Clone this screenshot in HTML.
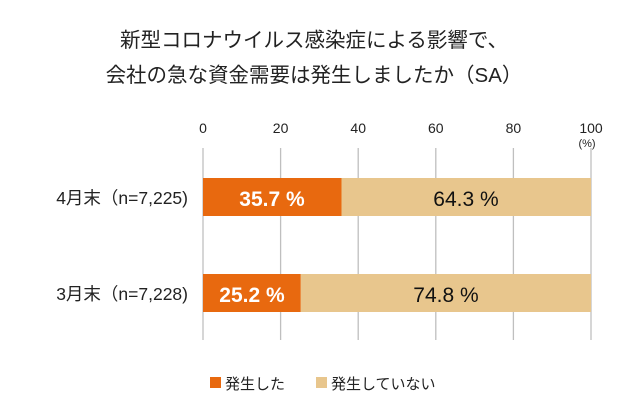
<!DOCTYPE html>
<html><head><meta charset="utf-8"><style>
body{margin:0;background:#fff;}
svg text{font-family:"Liberation Sans","Noto Sans CJK JP",sans-serif;}
</style></head><body>
<svg width="629" height="410" xmlns="http://www.w3.org/2000/svg">
<rect width="629" height="410" fill="#fff"/>
<text x="314" y="47" font-size="20.5" text-anchor="middle" fill="#222">新型コロナウイルス感染症による影響で、</text>
<text x="314" y="82" font-size="20.5" text-anchor="middle" fill="#222">会社の急な資金需要は発生しましたか（SA）</text>
<g font-size="14" fill="#222" text-anchor="middle">
<text x="203" y="133">0</text><text x="280.6" y="133">20</text><text x="358.2" y="133">40</text>
<text x="435.8" y="133">60</text><text x="513.4" y="133">80</text><text x="591" y="133">100</text>
<text x="587" y="147" font-size="11">(%)</text>
</g>
<g stroke="#bfbfbf" stroke-width="1.3">
<line x1="203" y1="148" x2="203" y2="340"/><line x1="280.6" y1="148" x2="280.6" y2="340"/>
<line x1="358.2" y1="148" x2="358.2" y2="340"/><line x1="435.8" y1="148" x2="435.8" y2="340"/>
<line x1="513.4" y1="148" x2="513.4" y2="340"/><line x1="591" y1="148" x2="591" y2="340"/>
</g>
<rect x="203" y="178" width="138.5" height="38" fill="#e8690f"/>
<rect x="341.5" y="178" width="249.5" height="38" fill="#e8c68d"/>
<rect x="203" y="274" width="97.8" height="38" fill="#e8690f"/>
<rect x="300.8" y="274" width="290.2" height="38" fill="#e8c68d"/>
<text x="272" y="206" font-size="21" font-weight="bold" fill="#fff" text-anchor="middle">35.7 %</text>
<text x="466" y="206" font-size="21" fill="#111" text-anchor="middle">64.3 %</text>
<text x="252" y="302" font-size="21" font-weight="bold" fill="#fff" text-anchor="middle">25.2 %</text>
<text x="446" y="302" font-size="21" fill="#111" text-anchor="middle">74.8 %</text>
<text x="188" y="204" font-size="17.5" fill="#222" text-anchor="end">4月末（n=7,225)</text>
<text x="188" y="300" font-size="17.5" fill="#222" text-anchor="end">3月末（n=7,228)</text>
<rect x="210" y="377" width="11" height="11" fill="#e8690f"/>
<text x="225" y="389" font-size="15" fill="#222">発生した</text>
<rect x="316" y="377" width="11" height="11" fill="#e8c68d"/>
<text x="331" y="389" font-size="15" fill="#222">発生していない</text>
</svg>
</body></html>
